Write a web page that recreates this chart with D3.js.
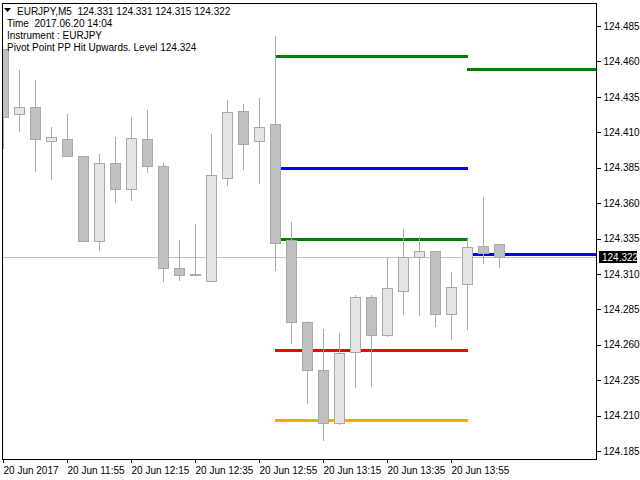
<!DOCTYPE html>
<html>
<head>
<meta charset="utf-8">
<script src="https://cdn.jsdelivr.net/npm/d3@7"></script>
<style>
  body { margin: 0; background: #ffffff; }
  text { font-family: "Liberation Sans", Arial, sans-serif; font-size: 10px; }
</style>
</head>
<body>
<div id="chart"></div>
<script>
// EURJPY M5 candles, from 11:35 on 20 Jun 2017
const opens = [124.469, 124.423, 124.428, 124.404, 124.405, 124.393, 124.333, 124.388,
  124.370, 124.405, 124.386, 124.314, 124.309, 124.305, 124.378, 124.425, 124.404,
  124.416, 124.334, 124.276, 124.242, 124.205, 124.255, 124.294, 124.267, 124.298,
  124.322, 124.326, 124.282, 124.303, 124.330, 124.331];
const highs = [124.469, 124.454, 124.447, 124.414, 124.423, 124.393, 124.395, 124.407,
  124.421, 124.426, 124.388, 124.334, 124.345, 124.409, 124.433, 124.430, 124.434,
  124.478, 124.347, 124.277, 124.271, 124.268, 124.295, 124.295, 124.321, 124.342,
  124.336, 124.326, 124.311, 124.335, 124.364, 124.331];
const lows = [124.399, 124.411, 124.383, 124.377, 124.393, 124.333, 124.327, 124.361,
  124.362, 124.382, 124.305, 124.306, 124.309, 124.305, 124.373, 124.384, 124.374,
  124.313, 124.261, 124.219, 124.193, 124.204, 124.230, 124.231, 124.266, 124.282,
  124.281, 124.273, 124.264, 124.271, 124.318, 124.315];
const closes = [124.421, 124.428, 124.405, 124.407, 124.393, 124.333, 124.388, 124.370,
  124.406, 124.386, 124.314, 124.309, 124.310, 124.380, 124.424, 124.402, 124.414,
  124.332, 124.276, 124.242, 124.205, 124.254, 124.294, 124.267, 124.300, 124.322,
  124.326, 124.282, 124.301, 124.329, 124.325, 124.322];

// pivot levels: hourly periods starting at bar 17 (13:00) and bar 29 (14:00)
const levelKinds = ["R1", "PP", "S1", "S2", "S3", "R1", "PP"];
const levelPrices = [124.464, 124.385, 124.335, 124.256, 124.207, 124.455, 124.324];
const levelFrom = [17, 17, 17, 17, 17, 29, 29];
const levelTo = [29, 29, 29, 29, 29, null, null]; // null = runs to the chart edge

const bid = 124.322;

// axis ticks
const priceTicks = [124.185, 124.210, 124.235, 124.260, 124.285, 124.310, 124.335,
  124.360, 124.385, 124.410, 124.435, 124.460, 124.485];
const timeTickBars = [0, 4, 8, 12, 16, 20, 24, 28];
const timeTickLabels = ["20 Jun 2017", "20 Jun 11:55", "20 Jun 12:15", "20 Jun 12:35",
  "20 Jun 12:55", "20 Jun 13:15", "20 Jun 13:35", "20 Jun 13:55"];

const headerLines = [
  "EURJPY,M5  124.331 124.331 124.315 124.322",
  "Time  2017.06.20 14:04",
  "Instrument : EURJPY",
  "Pivot Point PP Hit Upwards. Level 124.324",
];

const levelColors = { R1: "#008000", PP: "#0000ff", S1: "#008000", S2: "#ff0000", S3: "#ffa500" };

const candles = opens.map((o, i) => ({
  i: i, open: o, high: highs[i], low: lows[i], close: closes[i],
}));

// Plot area (inside the frame)
var plot = { left: 2, right: 596, top: 3, bottom: 459 };

const svg = d3
  .select("#chart")
  .append("svg")
  .attr("width", 640)
  .attr("height", 480)
  .style("display", "block");

svg.append("rect").attr("width", 640).attr("height", 480).attr("fill", "#ffffff");

// one bar every 16 px, bar 0 centred at x=3
const x = d3.scaleLinear().domain([0, 1]).range([3, 19]);
const y = d3.scaleLinear().domain([124.185, 124.485]).range([451, 26]);

svg
  .append("defs")
  .append("clipPath")
  .attr("id", "plotclip")
  .append("rect")
  .attr("x", plot.left)
  .attr("y", plot.top)
  .attr("width", plot.right - plot.left)
  .attr("height", plot.bottom - plot.top);

const g = svg.append("g").attr("clip-path", "url(#plotclip)").attr("shape-rendering", "crispEdges");

// bid line
g.append("line")
  .attr("x1", plot.left)
  .attr("x2", plot.right)
  .attr("y1", Math.round(y(bid)) + 0.5)
  .attr("y2", Math.round(y(bid)) + 0.5)
  .attr("stroke", "#c0c0c0")
  .attr("stroke-width", 1);

// pivot level segments
g.selectAll(".level")
  .data(levelPrices)
  .enter()
  .append("line")
  .attr("class", "level")
  .attr("x1", (d, i) => x(levelFrom[i]))
  .attr("x2", (d, i) => (levelTo[i] === null ? plot.right + 1 : x(levelTo[i]) + 1))
  .attr("y1", (d) => Math.round(y(d)) + 0.5)
  .attr("y2", (d) => Math.round(y(d)) + 0.5)
  .attr("stroke", (d, i) => levelColors[levelKinds[i]])
  .attr("stroke-width", 3);

// candles
const cg = g.selectAll(".candle").data(candles).enter().append("g").attr("class", "candle");

cg.append("line")
  .attr("x1", (d) => x(d.i) + 0.5)
  .attr("x2", (d) => x(d.i) + 0.5)
  .attr("y1", (d) => Math.round(y(d.high)))
  .attr("y2", (d) => Math.round(y(d.low)) + 1)
  .attr("stroke", "#a3aea3")
  .attr("stroke-width", 1);

cg.append("rect")
  .attr("x", (d) => x(d.i) - 4.5)
  .attr("width", 10)
  .attr("y", (d) => Math.round(y(Math.max(d.open, d.close))) + 0.5)
  .attr("height", (d) => Math.max(1, Math.round(y(Math.min(d.open, d.close))) - Math.round(y(Math.max(d.open, d.close)))))
  .attr("fill", (d) => (d.close >= d.open ? "#e4e4e4" : "#c0c0c0"))
  .attr("stroke", "#a3aea3")
  .attr("stroke-width", 1);

// frame
svg
  .append("rect")
  .attr("x", plot.left + 0.5)
  .attr("y", plot.top + 0.5)
  .attr("width", plot.right - plot.left)
  .attr("height", plot.bottom - plot.top)
  .attr("fill", "none")
  .attr("stroke", "#000000")
  .attr("shape-rendering", "crispEdges");

// price axis on the right
const yAxis = svg
  .append("g")
  .attr("transform", "translate(" + (plot.right + 0.5) + ",0)")
  .call(d3.axisRight(y).tickValues(priceTicks).tickFormat(d3.format(".3f")).tickSize(4).tickPadding(3));
yAxis.select(".domain").remove();
yAxis.selectAll("line").attr("stroke", "#000000").attr("shape-rendering", "crispEdges");
yAxis.selectAll("text").attr("font-size", 10).attr("font-family", "Liberation Sans, Arial, sans-serif").attr("fill", "#000");

// current price tag
const by = Math.round(y(bid));
svg
  .append("rect")
  .attr("x", 599)
  .attr("y", by - 6)
  .attr("width", 38)
  .attr("height", 12)
  .attr("fill", "#000000");
svg
  .append("text")
  .attr("x", 602)
  .attr("y", by)
  .attr("dy", "0.35em")
  .attr("fill", "#ffffff")
  .text(d3.format(".3f")(bid));

// time axis at the bottom
const xAxis = svg
  .append("g")
  .attr("transform", "translate(0," + (plot.bottom + 0.5) + ")")
  .call(
    d3
      .axisBottom(x)
      .tickValues(timeTickBars)
      .tickFormat((d, i) => timeTickLabels[i])
      .tickSize(3)
      .tickPadding(4)
  );
xAxis.select(".domain").remove();
xAxis.selectAll("line").attr("stroke", "#000000").attr("shape-rendering", "crispEdges");
xAxis
  .selectAll("text")
  .attr("text-anchor", "start")
  .attr("x", 0)
  .attr("font-size", 10)
  .attr("font-family", "Liberation Sans, Arial, sans-serif")
  .attr("fill", "#000");

// header text in the top left corner
svg
  .append("path")
  .attr("d", "M4,8 L11,8 L7.5,12 Z")
  .attr("fill", "#000000");

svg
  .selectAll(".header")
  .data(headerLines)
  .enter()
  .append("text")
  .attr("class", "header")
  .attr("x", (d, i) => (i === 0 ? 17 : 7))
  .attr("y", (d, i) => 11 + i * 12)
  .attr("dy", "0.35em")
  .attr("fill", "#000000")
  .style("white-space", "pre")
  .text((d) => d);
</script>
</body>
</html>
